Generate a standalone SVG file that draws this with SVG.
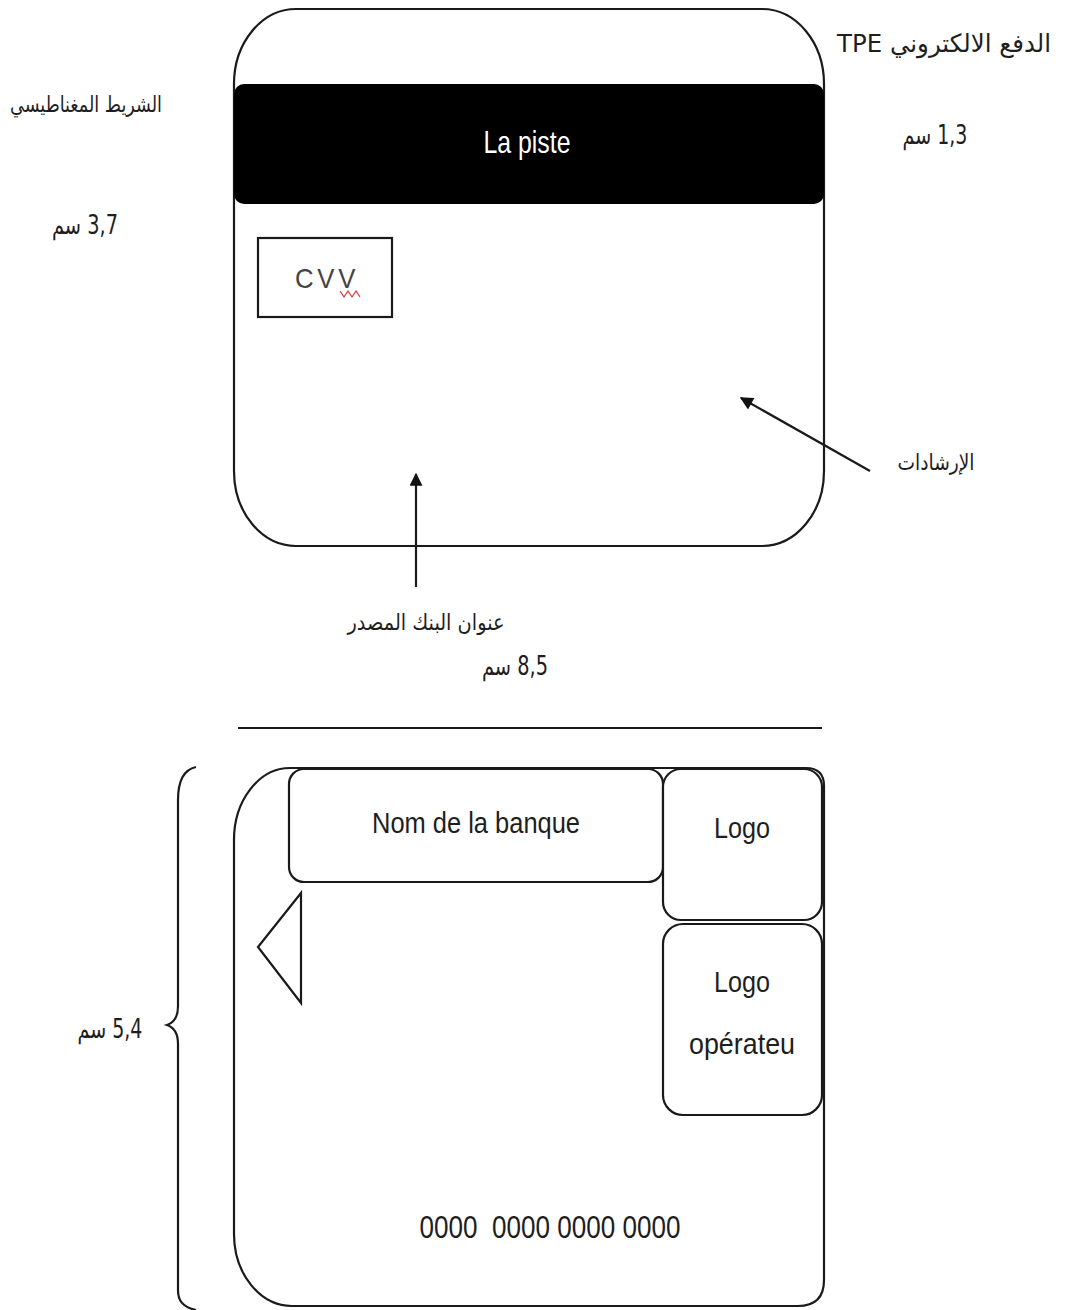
<svg xmlns="http://www.w3.org/2000/svg" width="1065" height="1310" viewBox="0 0 1065 1310">
<style>
.ln{fill:none;stroke:#1a1a1a;stroke-width:2.2}
.bx{fill:#fff;stroke:#1a1a1a;stroke-width:2.2}
.t{font-family:"Liberation Sans","DejaVu Sans",sans-serif;fill:#1e1e1e;text-anchor:middle}
.ar{font-family:"DejaVu Sans","Noto Sans",sans-serif;fill:#1e1e1e;text-anchor:middle;direction:rtl;unicode-bidi:embed}
</style>
<defs>
<marker id="ah" viewBox="0 0 10 10" refX="9" refY="5" markerWidth="16" markerHeight="13" markerUnits="userSpaceOnUse" orient="auto">
<path d="M0,0 L10,5 L0,10 Z" fill="#111"/>
</marker>
</defs>
<rect width="1065" height="1310" fill="#fff"/>

<g id="card-back">
<rect class="bx" x="234" y="9" width="590" height="537" rx="62" ry="75"/>
</g>
<g id="stripe">
<rect x="234" y="84" width="590" height="120" rx="10" fill="#000"/>
<text class="t" x="527" y="153" font-size="32" style="fill:#fff" textLength="87" lengthAdjust="spacingAndGlyphs">La piste</text>
</g>
<g id="cvv">
<rect class="bx" x="258" y="238" width="134" height="79"/>
<text class="t" x="327" y="288" font-size="28" letter-spacing="4" style="fill:#444" textLength="64" lengthAdjust="spacingAndGlyphs">CVV</text>
<path d="M340,291 l4,6 l4,-6 l4,6 l4,-6 l4,6" fill="none" stroke="#d33" stroke-width="1.2"/>
</g>

<g id="labels-top">
<text class="ar" x="944" y="52" font-size="25" textLength="214" lengthAdjust="spacingAndGlyphs">الدفع الالكتروني TPE</text>
<text class="ar" x="935" y="144" font-size="26" textLength="65" lengthAdjust="spacingAndGlyphs">1,3 سم</text>
<text class="ar" x="86" y="112" font-size="22" textLength="152" lengthAdjust="spacingAndGlyphs">الشريط المغناطيسي</text>
<text class="ar" x="85" y="234" font-size="26" textLength="66" lengthAdjust="spacingAndGlyphs">3,7 سم</text>
<text class="ar" x="936" y="470" font-size="22" textLength="77" lengthAdjust="spacingAndGlyphs">الإرشادات</text>
<text class="ar" x="426" y="630" font-size="22" textLength="157" lengthAdjust="spacingAndGlyphs">عنوان البنك المصدر</text>
<text class="ar" x="515" y="675" font-size="26" textLength="66" lengthAdjust="spacingAndGlyphs">8,5 سم</text>
<text class="ar" x="110" y="1038" font-size="26" textLength="65" lengthAdjust="spacingAndGlyphs">5,4 سم</text>
</g>

<g id="connectors">
<line class="ln" x1="416" y1="587" x2="416" y2="474" marker-end="url(#ah)"/>
<line class="ln" x1="870" y1="471" x2="741" y2="398" marker-end="url(#ah)"/>
<line class="ln" x1="238" y1="728" x2="822" y2="728"/>
<path class="ln" d="M196,767 C182,770 178,785 178,800 V1006 C178,1018 173,1023 167,1025 C173,1027 178,1032 178,1044 V1290 C178,1300 182,1307 196,1310"/>
</g>

<g id="card-front">
<path class="bx" d="M290,768 H806 Q824,768 824,786 V1280 Q824,1306 798,1306 H292 A58,72 0 0 1 234,1234 V840 A56,72 0 0 1 290,768 Z"/>
</g>
<g id="bank-name">
<rect class="bx" x="289" y="769" width="374" height="113" rx="15"/>
<text class="t" x="476" y="833" font-size="30" textLength="208" lengthAdjust="spacingAndGlyphs">Nom de la banque</text>
</g>
<g id="logo">
<rect class="bx" x="663" y="769" width="159" height="151" rx="18"/>
<text class="t" x="742" y="838" font-size="30" textLength="56" lengthAdjust="spacingAndGlyphs">Logo</text>
</g>
<g id="logo-operateur">
<rect class="bx" x="663" y="924" width="159" height="191" rx="20"/>
<text class="t" x="742" y="992" font-size="30" textLength="56" lengthAdjust="spacingAndGlyphs">Logo</text>
<text class="t" x="742" y="1054" font-size="30" textLength="106" lengthAdjust="spacingAndGlyphs">opérateu</text>
</g>
<g id="chip-arrow">
<polygon class="bx" points="301,893 258,947 301,1003"/>
</g>
<g id="card-number">
<text class="t" x="550" y="1238" font-size="32" textLength="261" lengthAdjust="spacingAndGlyphs" xml:space="preserve">0000  0000 0000 0000</text>
</g>
</svg>
